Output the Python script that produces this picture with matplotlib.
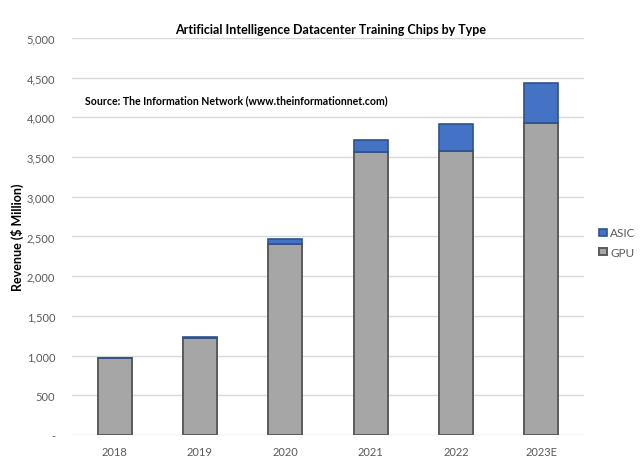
import matplotlib
matplotlib.use("Agg")
import matplotlib.pyplot as plt
from matplotlib.ticker import FuncFormatter

years = ["2018", "2019", "2020", "2021", "2022", "2023E"]
gpu = [965, 1220, 2405, 3568, 3575, 3929]
asic = [10, 20, 60, 147, 335, 500]
yticks = [0, 500, 1000, 1500, 2000, 2500, 3000, 3500, 4000, 4500, 5000]

plt.rcParams['font.family'] = ['Lato', 'DejaVu Sans']

fig = plt.figure(figsize=(6.4, 4.64), dpi=100)
ax = fig.add_axes([0.1125, 0.0603, 0.8, 0.856])

x = list(range(len(years)))
w = 0.4
ax.bar(x, gpu, width=w, color="#A6A6A6", edgecolor="#5A5A5A", linewidth=1.4,
       label="GPU", zorder=3)
ax.bar(x, asic, width=w, bottom=gpu, color="#4472C4", edgecolor="#2F528F",
       linewidth=1.2, label="ASIC", zorder=3)

ax.set_xlim(-0.5, len(years) - 0.5)
ax.set_ylim(0, 5000)
ax.set_yticks(yticks)
ax.yaxis.set_major_formatter(FuncFormatter(lambda v, p: "-" if v == 0 else f"{int(v):,}"))
ax.set_xticks(x)
ax.set_xticklabels(years)
ax.grid(axis="y", color="#D9D9D9", linewidth=1, zorder=0)
for s in ax.spines.values():
    s.set_visible(False)
ax.tick_params(axis="both", length=0, colors="#595959", labelsize=8)
ax.tick_params(axis="y", pad=12)
ax.tick_params(axis="x", pad=8)

ax.set_ylabel("Revenue ($ Million)", fontsize=9, fontweight="bold", color="black")
ax.yaxis.set_label_coords(-0.093, 0.5)
fig.text(0.516, 0.935, "Artificial Intelligence Datacenter Training Chips by Type",
         ha="center", va="center", fontsize=9, fontweight="bold")
fig.text(0.133, 0.782, "Source: The Information Network (www.theinformationnet.com)",
         ha="left", va="center", fontsize=7.6, fontweight="bold")

h, l = ax.get_legend_handles_labels()
leg = fig.legend(h[::-1], l[::-1], loc="center left", bbox_to_anchor=(0.92, 0.475),
                 frameon=False, fontsize=8.5, handlelength=0.6, handleheight=0.6,
                 handletextpad=0.3, labelspacing=0.7, labelcolor="#595959")

fig.savefig("out.png", dpi=100)
